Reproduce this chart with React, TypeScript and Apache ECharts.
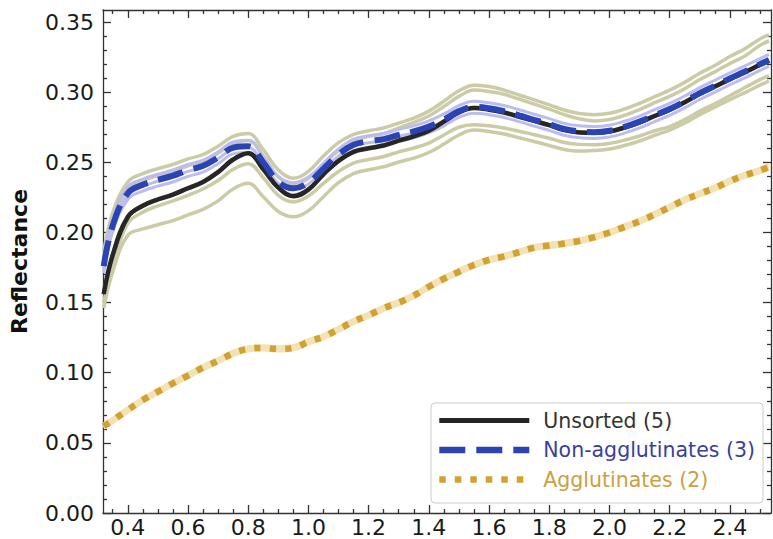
import React, { useEffect, useRef } from "react";
import * as echarts from "echarts";

const FONT = '"DejaVu Sans", "Liberation Sans", sans-serif';

// Wavelength grid (µm)
const wavelength = [
  0.32, 0.35, 0.4, 0.45, 0.5, 0.55, 0.6, 0.65, 0.7, 0.75, 0.8, 0.85, 0.9, 0.95,
  1.0, 1.05, 1.1, 1.15, 1.2, 1.25, 1.3, 1.35, 1.4, 1.45, 1.5, 1.55, 1.6, 1.65,
  1.7, 1.75, 1.8, 1.85, 1.9, 1.95, 2.0, 2.05, 2.1, 2.15, 2.2, 2.25, 2.3, 2.35,
  2.4, 2.45, 2.5, 2.53,
];

// Group means
const unsortedMean = [
  0.156, 0.184, 0.211, 0.219, 0.2235, 0.227, 0.2315, 0.236, 0.243, 0.252, 0.2565,
  0.245, 0.232, 0.2258, 0.2305, 0.2415, 0.251, 0.2575, 0.26, 0.262, 0.2655, 0.2685,
  0.2725, 0.279, 0.2855, 0.2887, 0.2875, 0.2855, 0.2825, 0.2795, 0.2765, 0.273,
  0.2713, 0.271, 0.272, 0.2748, 0.2785, 0.283, 0.2875, 0.2928, 0.2988, 0.304,
  0.3093, 0.3142, 0.3195, 0.3225,
];
const nonAggMean = [
  0.176, 0.205, 0.228, 0.234, 0.2375, 0.2405, 0.2445, 0.2475, 0.2535, 0.2605, 0.2615,
  0.25, 0.236, 0.2315, 0.2355, 0.2455, 0.2555, 0.2625, 0.265, 0.2665, 0.2695, 0.272,
  0.2755, 0.2805, 0.2865, 0.2895, 0.2885, 0.2865, 0.2835, 0.2803, 0.2772, 0.2738,
  0.272, 0.2715, 0.2725, 0.2753, 0.279, 0.2835, 0.288, 0.2933, 0.2993, 0.3045,
  0.3098, 0.3147, 0.32, 0.323,
];
const aggMean = [
  0.062, 0.066, 0.0735, 0.0805, 0.0865, 0.0925, 0.098, 0.1037, 0.1085, 0.1138, 0.117,
  0.1177, 0.117, 0.1178, 0.122, 0.1257, 0.131, 0.1365, 0.141, 0.146, 0.15, 0.155,
  0.1613, 0.167, 0.172, 0.1768, 0.1805, 0.183, 0.186, 0.1892, 0.1907, 0.1921, 0.194,
  0.1967, 0.2, 0.204, 0.208, 0.2128, 0.218, 0.2233, 0.2276, 0.2317, 0.2366, 0.2408,
  0.2442, 0.2468,
];

// Individual unsorted spectra (5)
const unsorted1 = [
  0.186, 0.214, 0.236, 0.242, 0.2455, 0.2485, 0.2525, 0.2555, 0.2615, 0.2685, 0.2705,
  0.259, 0.2445, 0.2387, 0.2435, 0.2545, 0.264, 0.27, 0.2725, 0.2745, 0.278, 0.2815,
  0.2865, 0.2935, 0.301, 0.305, 0.304, 0.3015, 0.298, 0.2945, 0.291, 0.2873, 0.2848,
  0.284, 0.285, 0.288, 0.292, 0.2968, 0.3015, 0.307, 0.3135, 0.319, 0.3255, 0.331,
  0.338, 0.341,
];
const unsorted2 = [
  0.18, 0.208, 0.231, 0.237, 0.2405, 0.2435, 0.2475, 0.2505, 0.2565, 0.2635, 0.2655,
  0.2545, 0.2395, 0.2345, 0.2385, 0.2485, 0.2585, 0.2655, 0.2685, 0.2705, 0.2745,
  0.2785, 0.283, 0.2898, 0.297, 0.3015, 0.3005, 0.2985, 0.295, 0.2915, 0.288, 0.284,
  0.281, 0.2795, 0.2805, 0.2835, 0.2875, 0.2925, 0.297, 0.3025, 0.309, 0.3145, 0.3205,
  0.3258, 0.3335, 0.3365,
];
const unsorted3 = [
  0.157, 0.185, 0.2115, 0.2195, 0.224, 0.2275, 0.232, 0.2365, 0.2435, 0.2525, 0.257,
  0.2455, 0.2325, 0.2262, 0.231, 0.242, 0.2515, 0.258, 0.2605, 0.2625, 0.266, 0.269,
  0.273, 0.2795, 0.286, 0.2892, 0.288, 0.286, 0.283, 0.28, 0.277, 0.2735, 0.2718,
  0.2715, 0.2725, 0.2753, 0.279, 0.2835, 0.288, 0.2933, 0.2993, 0.3045, 0.3098,
  0.3147, 0.32, 0.323,
];
const unsorted4 = [
  0.15, 0.177, 0.2065, 0.2145, 0.219, 0.2225, 0.2265, 0.231, 0.237, 0.245, 0.249,
  0.239, 0.2265, 0.2218, 0.226, 0.235, 0.2435, 0.2495, 0.252, 0.2542, 0.2575, 0.2602,
  0.2637, 0.2695, 0.275, 0.2768, 0.276, 0.2745, 0.2722, 0.2697, 0.2672, 0.2642,
  0.2628, 0.2625, 0.2635, 0.2658, 0.2688, 0.2725, 0.2755, 0.2805, 0.2865, 0.2918,
  0.2975, 0.3033, 0.309, 0.3118,
];
const unsorted5 = [
  0.146, 0.172, 0.198, 0.2025, 0.2055, 0.2085, 0.2125, 0.2165, 0.2225, 0.231, 0.235,
  0.2255, 0.215, 0.2112, 0.2155, 0.2255, 0.2355, 0.242, 0.2447, 0.2468, 0.2502, 0.253,
  0.257, 0.263, 0.2695, 0.273, 0.272, 0.2702, 0.2675, 0.2648, 0.262, 0.2592, 0.258,
  0.2585, 0.2595, 0.262, 0.2652, 0.2693, 0.273, 0.278, 0.284, 0.2893, 0.2947, 0.2997,
  0.305, 0.308,
];

// Individual non-agglutinate spectra (3)
const nonAgg1 = [
  0.181, 0.21, 0.2325, 0.238, 0.2415, 0.2445, 0.2485, 0.2515, 0.2575, 0.2645, 0.2655,
  0.254, 0.24, 0.2355, 0.2395, 0.2495, 0.2595, 0.2665, 0.269, 0.2705, 0.2735, 0.276,
  0.2795, 0.2845, 0.2905, 0.2935, 0.2925, 0.2905, 0.2875, 0.2843, 0.2812, 0.2778,
  0.276, 0.2755, 0.2765, 0.2793, 0.283, 0.2875, 0.292, 0.2973, 0.3033, 0.3085,
  0.3138, 0.3187, 0.324, 0.327,
];
const nonAgg2 = [
  0.175, 0.204, 0.227, 0.233, 0.2365, 0.2395, 0.2435, 0.2465, 0.2525, 0.2595, 0.2605,
  0.249, 0.235, 0.2305, 0.2345, 0.2445, 0.2545, 0.2615, 0.264, 0.2655, 0.2685, 0.271,
  0.2745, 0.2795, 0.2855, 0.2885, 0.2875, 0.2855, 0.2825, 0.2793, 0.2762, 0.2728,
  0.271, 0.2705, 0.2715, 0.2743, 0.278, 0.2825, 0.287, 0.2923, 0.2983, 0.3035,
  0.3088, 0.3137, 0.319, 0.322,
];
const nonAgg3 = [
  0.171, 0.2005, 0.2235, 0.2295, 0.233, 0.236, 0.24, 0.243, 0.249, 0.256, 0.257,
  0.2465, 0.2315, 0.227, 0.231, 0.241, 0.251, 0.258, 0.2605, 0.262, 0.265, 0.2675,
  0.271, 0.276, 0.282, 0.285, 0.284, 0.282, 0.279, 0.2758, 0.2727, 0.2693, 0.2675,
  0.267, 0.268, 0.2708, 0.2745, 0.279, 0.2835, 0.2888, 0.2948, 0.3, 0.3053, 0.3102,
  0.3155, 0.3185,
];

// Individual agglutinate spectra (2)
const agg1 = [
  0.0632, 0.0672, 0.0747, 0.0817, 0.0877, 0.0937, 0.0992, 0.1049, 0.1097, 0.115, 0.1182,
  0.1189, 0.1182, 0.119, 0.1232, 0.1269, 0.1322, 0.1377, 0.1422, 0.1472, 0.1512, 0.1562,
  0.1625, 0.1682, 0.1732, 0.178, 0.1817, 0.1842, 0.1872, 0.1904, 0.1919, 0.1933, 0.1952,
  0.1979, 0.2012, 0.2052, 0.2092, 0.214, 0.2192, 0.2245, 0.2288, 0.2329, 0.2378, 0.242,
  0.2454, 0.248,
];
const agg2 = [
  0.0608, 0.0648, 0.0723, 0.0793, 0.0853, 0.0913, 0.0968, 0.1025, 0.1073, 0.1126, 0.1158,
  0.1165, 0.1158, 0.1166, 0.1208, 0.1245, 0.1298, 0.1353, 0.1398, 0.1448, 0.1488, 0.1538,
  0.1601, 0.1658, 0.1708, 0.1756, 0.1793, 0.1818, 0.1848, 0.188, 0.1895, 0.1909, 0.1928,
  0.1955, 0.1988, 0.2028, 0.2068, 0.2116, 0.2168, 0.2221, 0.2264, 0.2305, 0.2354, 0.2396,
  0.243, 0.2456,
];

// Axis ticks
const xMajor = [0.4, 0.6, 0.8, 1.0, 1.2, 1.4, 1.6, 1.8, 2.0, 2.2, 2.4];
const xMinor = [
  0.35, 0.45, 0.5, 0.55, 0.65, 0.7, 0.75, 0.85, 0.9, 0.95, 1.05, 1.1, 1.15, 1.25, 1.3,
  1.35, 1.45, 1.5, 1.55, 1.65, 1.7, 1.75, 1.85, 1.9, 1.95, 2.05, 2.1, 2.15, 2.25, 2.3,
  2.35, 2.45, 2.5,
];
const yMajor = [0.0, 0.05, 0.1, 0.15, 0.2, 0.25, 0.3, 0.35];
const yMinor = [
  0.01, 0.02, 0.03, 0.04, 0.06, 0.07, 0.08, 0.09, 0.11, 0.12, 0.13, 0.14, 0.16, 0.17,
  0.18, 0.19, 0.21, 0.22, 0.23, 0.24, 0.26, 0.27, 0.28, 0.29, 0.31, 0.32, 0.33, 0.34,
];

const X_MIN = 0.3177;
const X_MAX = 2.5366;
const Y_MIN = 0;
const Y_MAX = 0.3586;

const AXIS_COLOR = "#333333";

const BLACK = "#262626";
const BLUE = "#2b44b5";
const GOLD = "#d1a232";
const BLUE_DASH = [26, 11];
const GOLD_DOT = [6.5, 9];

const pairs = (vals: number[]) => wavelength.map((w, i) => [w, vals[i]]);

function xAxisDef(pos: "bottom" | "top", ticks: number[], len: number, labels: boolean, line: boolean) {
  return {
    type: "value",
    min: X_MIN,
    max: X_MAX,
    position: pos,
    axisLine: { show: line, onZero: false, lineStyle: { color: AXIS_COLOR, width: 1.3 } },
    axisTick: { show: true, inside: true, length: len, customValues: ticks, lineStyle: { color: AXIS_COLOR, width: 1.3 } },
    axisLabel: labels
      ? {
          show: true,
          customValues: ticks,
          formatter: (v: number) => v.toFixed(1),
          fontFamily: FONT,
          fontSize: 22,
          color: "#1a1a1a",
          margin: 3,
        }
      : { show: false },
    splitLine: { show: false },
  };
}

function yAxisDef(pos: "left" | "right", ticks: number[], len: number, labels: boolean, line: boolean, withName: boolean) {
  return {
    type: "value",
    min: Y_MIN,
    max: Y_MAX,
    position: pos,
    name: withName ? "Reflectance" : "",
    nameLocation: "middle",
    nameGap: 73,
    nameTextStyle: { fontFamily: FONT, fontSize: 22, fontWeight: "bold", color: "#111" },
    axisLine: { show: line, onZero: false, lineStyle: { color: AXIS_COLOR, width: 1.3 } },
    axisTick: { show: true, inside: true, length: len, customValues: ticks, lineStyle: { color: AXIS_COLOR, width: 1.3 } },
    axisLabel: labels
      ? {
          show: true,
          customValues: ticks,
          formatter: (v: number) => v.toFixed(2),
          fontFamily: FONT,
          fontSize: 22,
          color: "#1a1a1a",
          margin: 9,
        }
      : { show: false },
    splitLine: { show: false },
  };
}

function sample(name: string, vals: number[], color: string, width: number) {
  return {
    type: "line",
    name,
    data: pairs(vals),
    smooth: 0.4,
    symbol: "none",
    silent: true,
    lineStyle: { color, width },
    z: 1,
  };
}

export default function App() {
  const ref = useRef<HTMLDivElement>(null);

  useEffect(() => {
    if (!ref.current) return;
    const chart = echarts.init(ref.current, null, { renderer: "svg" });
    const olive = "#cbcca6";
    const lavender = "#bcbdec";
    const paleGold = "#f3e2b4";
    chart.setOption({
      animation: false,
      backgroundColor: "#ffffff",
      textStyle: { fontFamily: FONT },
      grid: { left: 97, right: 2, top: 10, bottom: 26, containLabel: false },
      xAxis: [
        xAxisDef("bottom", xMajor, 8, true, true),
        xAxisDef("bottom", xMinor, 4, false, false),
        xAxisDef("top", xMajor, 8, false, true),
        xAxisDef("top", xMinor, 4, false, false),
      ],
      yAxis: [
        yAxisDef("left", yMajor, 8, true, true, true),
        yAxisDef("left", yMinor, 4, false, false, false),
        yAxisDef("right", yMajor, 8, false, true, false),
        yAxisDef("right", yMinor, 4, false, false, false),
      ],
      legend: {
        orient: "vertical",
        right: 10,
        top: 403,
        itemWidth: 90,
        itemHeight: 14,
        itemGap: 8.5,
        padding: [7, 8, 13, 5],
        backgroundColor: "rgba(255,255,255,0.85)",
        borderColor: "#cccccc",
        borderWidth: 1,
        borderRadius: 4,
        selectedMode: false,
        itemStyle: { opacity: 0 },
        textStyle: { fontFamily: FONT, fontSize: 20.5, padding: [0, 0, 0, 9] },
        data: [
          {
            name: "Unsorted (5)",
            itemStyle: { opacity: 0 },
            lineStyle: { color: BLACK, width: 5, type: "solid" },
            textStyle: { color: "#333333" },
          },
          {
            name: "Non-agglutinates (3)",
            itemStyle: { opacity: 0 },
            lineStyle: { color: BLUE, width: 6.5, type: BLUE_DASH },
            textStyle: { color: "#3b3f98" },
          },
          {
            name: "Agglutinates (2)",
            itemStyle: { opacity: 0 },
            lineStyle: { color: GOLD, width: 6.5, type: GOLD_DOT },
            textStyle: { color: "#c9a043" },
          },
        ],
      },
      series: [
        sample("u1", unsorted1, olive, 3.5),
        sample("u2", unsorted2, olive, 3.5),
        sample("u3", unsorted3, olive, 3.5),
        sample("u4", unsorted4, olive, 3.5),
        sample("u5", unsorted5, olive, 3.5),
        sample("n1", nonAgg1, lavender, 3),
        sample("n2", nonAgg2, lavender, 3),
        sample("n3", nonAgg3, lavender, 3),
        sample("a1", agg1, paleGold, 4),
        sample("a2", agg2, paleGold, 4),
        {
          type: "line",
          name: "Unsorted (5)",
          data: pairs(unsortedMean),
          smooth: 0.4,
          symbol: "none",
          lineStyle: { color: BLACK, width: 4.5 },
          z: 3,
        },
        {
          type: "line",
          name: "Non-agglutinates (3)",
          data: pairs(nonAggMean),
          smooth: 0.4,
          symbol: "none",
          lineStyle: { color: BLUE, width: 6, type: BLUE_DASH, cap: "butt" },
          z: 4,
        },
        {
          type: "line",
          name: "Agglutinates (2)",
          data: pairs(aggMean),
          smooth: 0.4,
          symbol: "none",
          lineStyle: { color: GOLD, width: 6.5, type: GOLD_DOT, cap: "butt" },
          z: 5,
        },
      ],
    });
    return () => chart.dispose();
  }, []);

  return (
    <div
      ref={ref}
      style={{ position: "absolute", left: 0, top: 0, width: 773, height: 539 }}
    />
  );
}
